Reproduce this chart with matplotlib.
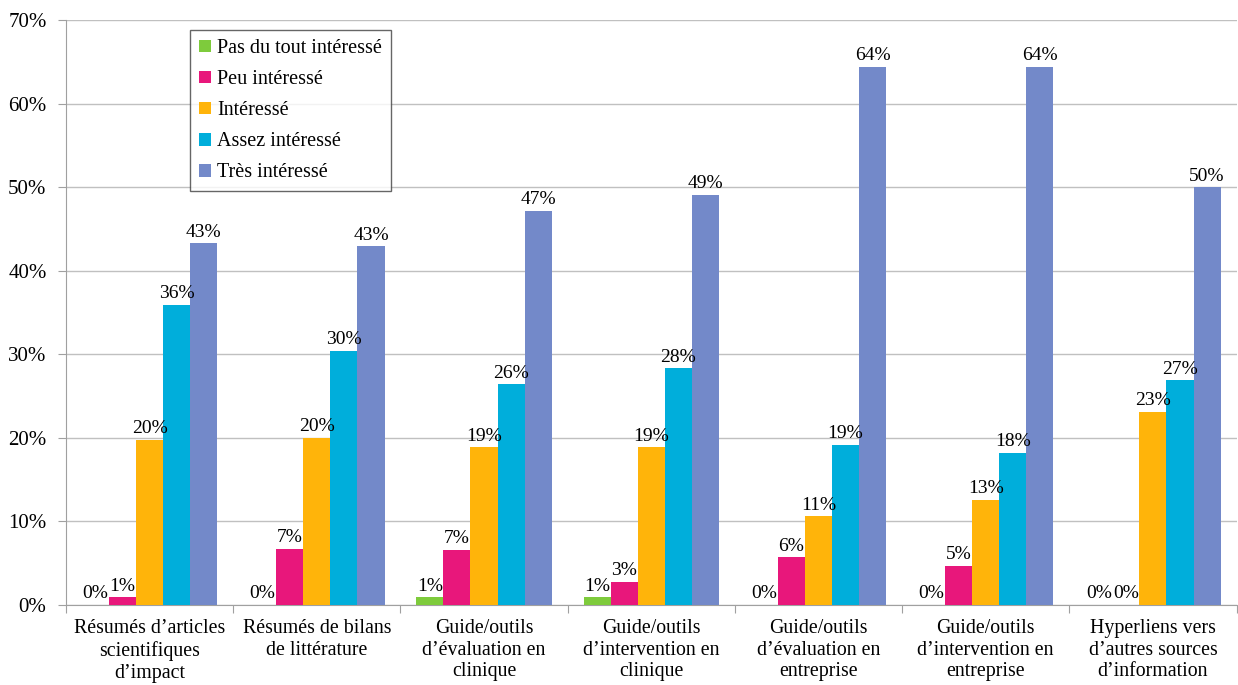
import matplotlib
matplotlib.use('Agg')
import matplotlib.pyplot as plt
import numpy as np

plt.rcParams.update({
    'font.family': 'Liberation Serif',
    'font.size': 14,
})

# ========== DATA ==========
categories = [
    'Résumés d’articles\nscientifiques\nd’impact',
    'Résumés de bilans\nde littérature',
    'Guide/outils\nd’évaluation en\nclinique',
    'Guide/outils\nd’intervention en\nclinique',
    'Guide/outils\nd’évaluation en\nentreprise',
    'Guide/outils\nd’intervention en\nentreprise',
    'Hyperliens vers\nd’autres sources\nd’information',
]
series_names = ['Pas du tout intéressé', 'Peu intéressé', 'Intéressé',
                'Assez intéressé', 'Très intéressé']
pas_du_tout = [0.0, 0.0, 0.9, 0.9, 0.0, 0.0, 0.0]
peu = [0.9, 6.7, 6.6, 2.8, 5.7, 4.7, 0.0]
interesse = [19.8, 20.0, 18.9, 18.9, 10.6, 12.6, 23.1]
assez = [35.9, 30.4, 26.4, 28.3, 19.2, 18.2, 26.9]
tres = [43.3, 42.9, 47.2, 49.1, 64.4, 64.4, 50.0]
yticks = [0, 10, 20, 30, 40, 50, 60, 70]

colors = ['#7ecb3c', '#e8177b', '#ffb40a', '#00aedb', '#7389c9']
all_series = [pas_du_tout, peu, interesse, assez, tres]

# ========== FIGURE ==========
fig = plt.figure(figsize=(12.38, 6.85), dpi=100)
ax = fig.add_axes([0.0533, 0.1168, 0.9455, 0.854])

x = np.arange(len(categories))
width = 0.162
for i, (vals, name, c) in enumerate(zip(all_series, series_names, colors)):
    pos = x + (i - 2) * width
    ax.bar(pos, vals, width, color=c, label=name, zorder=3)
    for px, v in zip(pos, vals):
        ax.text(px, v + 0.3, f'{v:.0f}%', ha='center', va='bottom',
                fontsize=14, zorder=4)

ax.set_xlim(-0.5, len(categories) - 0.5)
ax.set_ylim(0, 70)
ax.set_yticks(yticks)
ax.set_yticklabels([f'{t}%' for t in yticks])
ax.grid(axis='y', color='#c0c0c0', linewidth=1.0, zorder=0)

# category boundary ticks on x axis
ax.set_xticks(np.arange(-0.5, len(categories), 1.0))
ax.set_xticklabels([])
ax.set_xticks(x, minor=True)
ax.set_xticklabels(categories, minor=True, fontsize=14.3, linespacing=1.2)
ax.tick_params(axis='x', which='minor', length=0, pad=10)
ax.tick_params(axis='x', which='major', length=6, color='#a0a0a0', direction='out')
ax.tick_params(axis='y', length=6, color='#a0a0a0', pad=8, labelsize=15)

for s in ['top', 'right']:
    ax.spines[s].set_visible(False)
for s in ['left', 'bottom']:
    ax.spines[s].set_color('#a0a0a0')

leg = ax.legend(loc='upper left', bbox_to_anchor=(0.106, 0.983), fontsize=14.5,
                frameon=True, fancybox=False, edgecolor='#404040',
                handlelength=0.6, handleheight=0.6, handletextpad=0.3,
                labelspacing=0.6, borderpad=0.45, borderaxespad=0)
leg.get_frame().set_linewidth(1.0)

fig.savefig('out.png', dpi=100)
